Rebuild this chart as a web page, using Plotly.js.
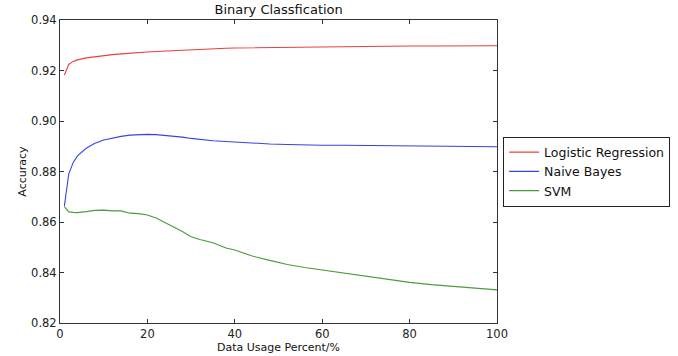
<!DOCTYPE html>
<html>
<head>
<meta charset="utf-8">
<script src="https://cdn.plot.ly/plotly-3.0.1.min.js"></script>
<style>
  html, body { margin: 0; padding: 0; background: #fff; }
  #chart { width: 678px; height: 356px; }
</style>
</head>
<body>
<div id="chart"></div>
<script>
// Percentage of training data used
const usage = [1, 2, 3, 4, 6, 8, 10, 12, 14, 16, 18, 20, 22, 24, 26, 28, 30, 32, 35, 38,
               40, 44, 48, 52, 56, 60, 65, 70, 75, 80, 85, 90, 95, 100];

// Accuracy of each classifier
const logisticRegression = [0.9182, 0.9224, 0.9236, 0.9242, 0.9250, 0.9255, 0.9259, 0.9263, 0.9266, 0.9269,
                            0.9271, 0.9273, 0.9275, 0.9277, 0.9279, 0.9281, 0.9282, 0.9284, 0.9286, 0.9288,
                            0.9289, 0.9290, 0.9291, 0.9292, 0.9293, 0.9294, 0.9294, 0.9295, 0.9296, 0.9297,
                            0.9297, 0.9298, 0.9298, 0.9298];
const naiveBayes = [0.8663, 0.8790, 0.8835, 0.8862, 0.8892, 0.8912, 0.8925, 0.8933, 0.8939, 0.8944,
                    0.8946, 0.8947, 0.8946, 0.8943, 0.8940, 0.8936, 0.8931, 0.8927, 0.8922, 0.8919,
                    0.8917, 0.8912, 0.8909, 0.8907, 0.8905, 0.8904, 0.8904, 0.8903, 0.8903, 0.8902,
                    0.8901, 0.8900, 0.8899, 0.8898];
const svm = [0.8661, 0.8640, 0.8638, 0.8637, 0.8641, 0.8646, 0.8647, 0.8644, 0.8644, 0.8635,
             0.8633, 0.8628, 0.8616, 0.8598, 0.8582, 0.8562, 0.8542, 0.8531, 0.8518, 0.8497,
             0.8489, 0.8465, 0.8448, 0.8432, 0.8420, 0.8410, 0.8397, 0.8383, 0.8371, 0.8361,
             0.8352, 0.8345, 0.8339, 0.8331];

const seriesNames = ['Logistic Regression', 'Naive Bayes', 'SVM'];
const seriesValues = [logisticRegression, naiveBayes, svm];
const seriesColors = ['#e8403f', '#3347e0', '#4c9a3c'];

const xTicks = [0, 20, 40, 60, 80, 100];
const yTicks = [0.82, 0.84, 0.86, 0.88, 0.90, 0.92, 0.94];

const font = 'DejaVu Sans, sans-serif';

const traces = seriesNames.map((name, i) => ({
  type: 'scatter',
  mode: 'lines',
  name: name,
  x: usage,
  y: seriesValues[i],
  line: { color: seriesColors[i], width: 1.1 }
}));

const axisCommon = {
  showgrid: false,
  zeroline: false,
  showline: true,
  mirror: 'allticks',
  linecolor: '#333',
  linewidth: 1,
  ticks: 'inside',
  ticklen: 4,
  tickwidth: 1,
  tickcolor: '#333',
  tickfont: { family: font, size: 11.5, color: '#222' }
};

const layout = {
  width: 678,
  height: 356,
  margin: { l: 60, r: 181, t: 20, b: 33, autoexpand: false },
  paper_bgcolor: '#fff',
  plot_bgcolor: '#fff',
  title: {
    text: 'Binary Classfication',
    font: { family: font, size: 13, color: '#111' },
    x: 0.411, xanchor: 'center',
    y: 0.985, yanchor: 'top'
  },
  xaxis: Object.assign({}, axisCommon, {
    range: [0, 100],
    tickvals: xTicks,
    ticktext: xTicks.map(String),
    title: { text: 'Data Usage Percent/%', font: { family: font, size: 11, color: '#111' }, standoff: 1 }
  }),
  yaxis: Object.assign({}, axisCommon, {
    range: [0.82, 0.94],
    tickvals: yTicks,
    ticktext: yTicks.map(v => v.toFixed(2)),
    title: { text: 'Accuracy', font: { family: font, size: 11, color: '#111' }, standoff: 2 }
  }),
  showlegend: true,
  legend: {
    x: 1.014, xanchor: 'left',
    y: 0.5, yanchor: 'middle',
    bgcolor: '#fff',
    bordercolor: '#222',
    borderwidth: 1,
    itemwidth: 30,
    font: { family: font, size: 12.5, color: '#111' },
    tracegroupgap: 0
  }
};

Plotly.newPlot('chart', traces, layout, { displayModeBar: false, staticPlot: true });
</script>
</body>
</html>
